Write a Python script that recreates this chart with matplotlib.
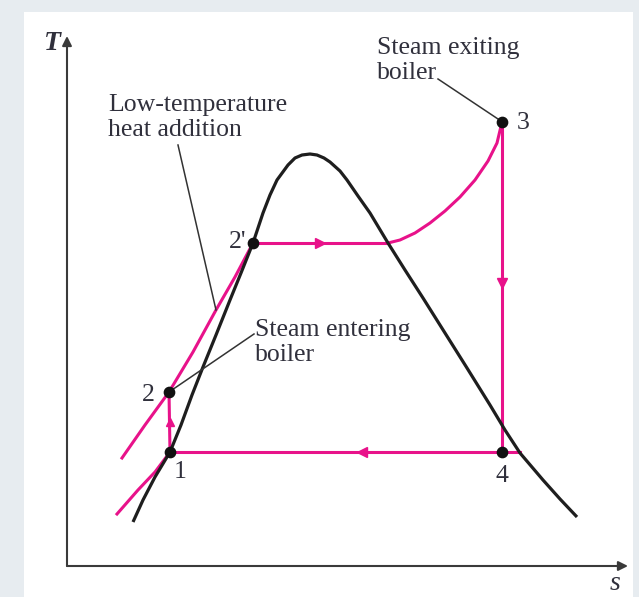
import matplotlib
matplotlib.use('Agg')
import matplotlib.pyplot as plt
from matplotlib.patches import Rectangle
import numpy as np

# schematic T-s diagram, arbitrary units
dome_s = [6.6, 7.6, 8.8, 10.3, 11.4, 12.5, 13.6, 14.9, 16.3, 17.4, 18.6, 19.1, 19.6,
          20.3, 21.0, 22.1, 22.8, 23.5, 24.3, 25.0, 25.7, 26.3, 27.3, 28.0, 29.1,
          30.3, 32.1, 33.8, 35.6, 37.8, 40.0, 42.3, 43.8, 45.3, 47.6, 49.3, 51.0]
dome_T = [4.4, 6.6, 8.9, 11.4, 14.1, 17.1, 19.9, 23.1, 26.6, 29.3, 32.3, 33.8, 35.3,
          37.1, 38.6, 40.1, 40.8, 41.1, 41.2, 41.1, 40.8, 40.4, 39.5, 38.6, 37.0,
          35.3, 32.3, 29.6, 26.8, 23.3, 19.8, 16.1, 13.6, 11.3, 8.6, 6.7, 4.9]

# compressed liquid lines
liq_hi_s = [5.5, 7.8, 10.2, 12.6, 14.9, 16.8, 18.6]
liq_hi_T = [10.8, 14.1, 17.4, 21.4, 25.6, 28.9, 32.3]
liq_lo_s = [5.0, 7.1, 8.8, 10.3]
liq_lo_T = [5.2, 7.6, 9.4, 11.4]

# superheated line from saturated vapour to state 3
sup_s = [32.1, 33.3, 34.8, 36.3, 37.8, 39.3, 40.8, 42.1, 43.0, 43.5]
sup_T = [32.3, 32.6, 33.3, 34.3, 35.5, 36.9, 38.6, 40.5, 42.3, 44.4]

# state points
states = ['1', '2', "2'", '3', '4']
state_s = [10.3, 10.2, 18.6, 43.5, 43.5]
state_T = [11.4, 17.4, 32.3, 44.4, 11.4]
s_end_low = 45.3  # low pressure line meets the dome

pink = '#e8128a'
ink = '#30303c'
font = 'Liberation Serif'
fs = 18.5

fig = plt.figure(figsize=(6.39, 5.97), dpi=100, facecolor='#e7ecf0')
fig.patches.append(Rectangle((24/639, 0), 609/639, 585/597,
                             transform=fig.transFigure, facecolor='white',
                             edgecolor='none', zorder=-10))
ax = fig.add_axes([67/639, 31/597, 561/639, 530/597])
ax.set_xlim(0, 56.1)
ax.set_ylim(0, 53)
ax.axis('off')
ax.patch.set_alpha(0)

# axes with arrows
for tip in [(56.1, 0), (0, 53)]:
    ax.annotate('', xy=tip, xytext=(0, 0), annotation_clip=False,
                arrowprops=dict(arrowstyle='-|>', color='#3a3a3a', lw=1.5,
                                mutation_scale=14, shrinkA=0, shrinkB=0))

ax.plot(dome_s, dome_T, color='#1e1e1e', lw=2.3, solid_capstyle='butt', zorder=3)

lw = 2.2
ax.plot(liq_hi_s, liq_hi_T, color=pink, lw=lw, zorder=2)
ax.plot(liq_lo_s, liq_lo_T, color=pink, lw=lw, zorder=2)
ax.plot(sup_s, sup_T, color=pink, lw=lw, zorder=2)
# 2' -> saturated vapour
ax.plot([state_s[2], sup_s[0]], [state_T[2], sup_T[0]], color=pink, lw=lw, zorder=2)
# 3 -> 4
ax.plot([state_s[3], state_s[4]], [state_T[3], state_T[4]], color=pink, lw=lw, zorder=2)
# 4 -> 1 (extends to dome)
ax.plot([state_s[0], s_end_low], [state_T[0], state_T[4]], color=pink, lw=lw, zorder=2)
# 1 -> 2
ax.plot([state_s[0], state_s[1]], [state_T[0], state_T[1]], color=pink, lw=lw, zorder=2)

# flow direction arrows
ax.plot(25.3, state_T[2], marker='>', color=pink, ms=7, zorder=4)
ax.plot(state_s[3], 28.3, marker='v', color=pink, ms=7, zorder=4)
ax.plot(29.5, state_T[4], marker='<', color=pink, ms=7, zorder=4)
ax.plot(10.25, 14.4, marker='^', color=pink, ms=6, zorder=4)

ax.scatter(state_s, state_T, s=55, color='#111111', zorder=5)

label_pos = [(11.3, 9.4), (8.1, 17.1), (17.1, 32.4), (45.6, 44.3), (43.5, 9.0)]
for lab, (x, y) in zip(states, label_pos):
    ax.text(x, y, lab, ha='center', va='center', fontsize=fs,
            family=font, color=ink)

# callouts
ax.text(31.0, 52.9, 'Steam exiting\nboiler', ha='left', va='top', fontsize=fs,
        family=font, color=ink, linespacing=1.2)
ax.plot([37.1, 43.4], [48.7, 44.5], color='#333333', lw=1.1, zorder=4)

ax.text(4.1, 47.2, 'Low-temperature\nheat addition', ha='left', va='top',
        fontsize=fs, family=font, color=ink, linespacing=1.2)
ax.plot([11.1, 14.9], [42.1, 25.6], color='#333333', lw=1.1, zorder=4)

ax.text(18.8, 24.7, 'Steam entering\nboiler', ha='left', va='top', fontsize=fs,
        family=font, color=ink, linespacing=1.2)
ax.plot([18.7, 10.2], [23.2, 17.4], color='#333333', lw=1.1, zorder=4)

# axis labels
ax.text(-1.5, 52.3, 'T', ha='center', va='center', fontsize=20,
        family=font, style='italic', fontweight='bold', color=ink)
ax.text(54.8, -1.7, 's', ha='center', va='center', fontsize=20,
        family=font, style='italic', color=ink)

fig.savefig('out.png', dpi=100, facecolor=fig.get_facecolor())
